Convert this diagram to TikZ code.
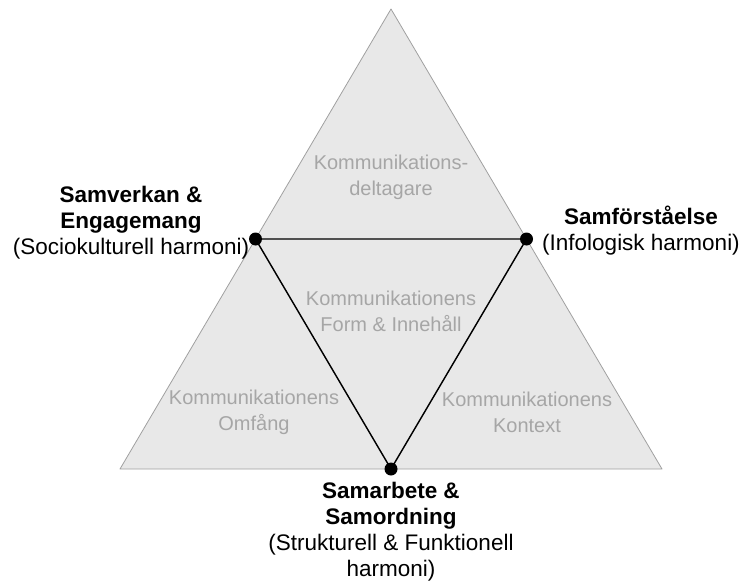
\documentclass[tikz,border=0pt]{standalone}
\usepackage{fontspec}
\setmainfont{Liberation Sans}
\usetikzlibrary{calc}
\definecolor{areafill}{RGB}{232,232,232}
\definecolor{edgegray}{RGB}{160,160,160}
\definecolor{areatext}{RGB}{166,166,166}

\begin{document}
\begin{tikzpicture}[
    x=1pt, y=-1pt,
    area/.style={fill=areafill, draw=edgegray, line width=0.8pt, line join=round},
    inner/.style={draw=black, line width=1.4pt},
    shadowline/.style={draw=edgegray, line width=1pt},
    dot/.style={circle, fill=black, inner sep=0pt, minimum size=13pt},
    region/.style={text=areatext, align=center, font=\fontsize{20}{26}\selectfont},
    goal/.style={text=black, align=center, font=\fontsize{22.5}{26}\selectfont}
  ]
  \useasboundingbox (0,0) rectangle (740,581);

  % big triangle
  \coordinate (top) at (391,9);
  \coordinate (bl) at (120,469);
  \coordinate (br) at (662,469);
  \draw[area] (top) -- (bl) -- (br) -- cycle;

  % inner triangle
  \coordinate (sv) at ($(top)!0.5!(bl)$);
  \coordinate (sf) at ($(top)!0.5!(br)$);
  \coordinate (sa) at ($(bl)!0.5!(br)$);
  \draw[shadowline, xshift=-1.8pt] (sv) -- (sa);
  \draw[shadowline, xshift=1.8pt] (sf) -- (sa);
  \draw[inner] (sv) -- (sf) -- (sa) -- cycle;
  \node[dot] (svdot) at (sv) {};
  \node[dot] (sfdot) at (sf) {};
  \node[dot] (sadot) at (sa) {};

  % regions
  \node[region] (deltagare) at (391,177) {Kommunikations-\\deltagare};
  \node[region] (form) at (391,311) {Kommunikationens\\Form \& Innehåll};
  \node[region] (omfang) at (254,412) {Kommunikationens\\Omfång};
  \node[region] (kontext) at (527,412) {Kommunikationens\\Kontext};

  % goals
  \node[goal] (samverkan) at (131,223)
    {\textbf{Samverkan \&}\\\textbf{Engagemang}\\(Sociokulturell harmoni)};
  \node[goal] (samforstaelse) at (641,230.5)
    {\textbf{Samförståelse}\\(Infologisk harmoni)};
  \node[goal] (samarbete) at (391,532)
    {\textbf{Samarbete \&}\\\textbf{Samordning}\\(Strukturell \& Funktionell\\harmoni)};
\end{tikzpicture}
\end{document}
